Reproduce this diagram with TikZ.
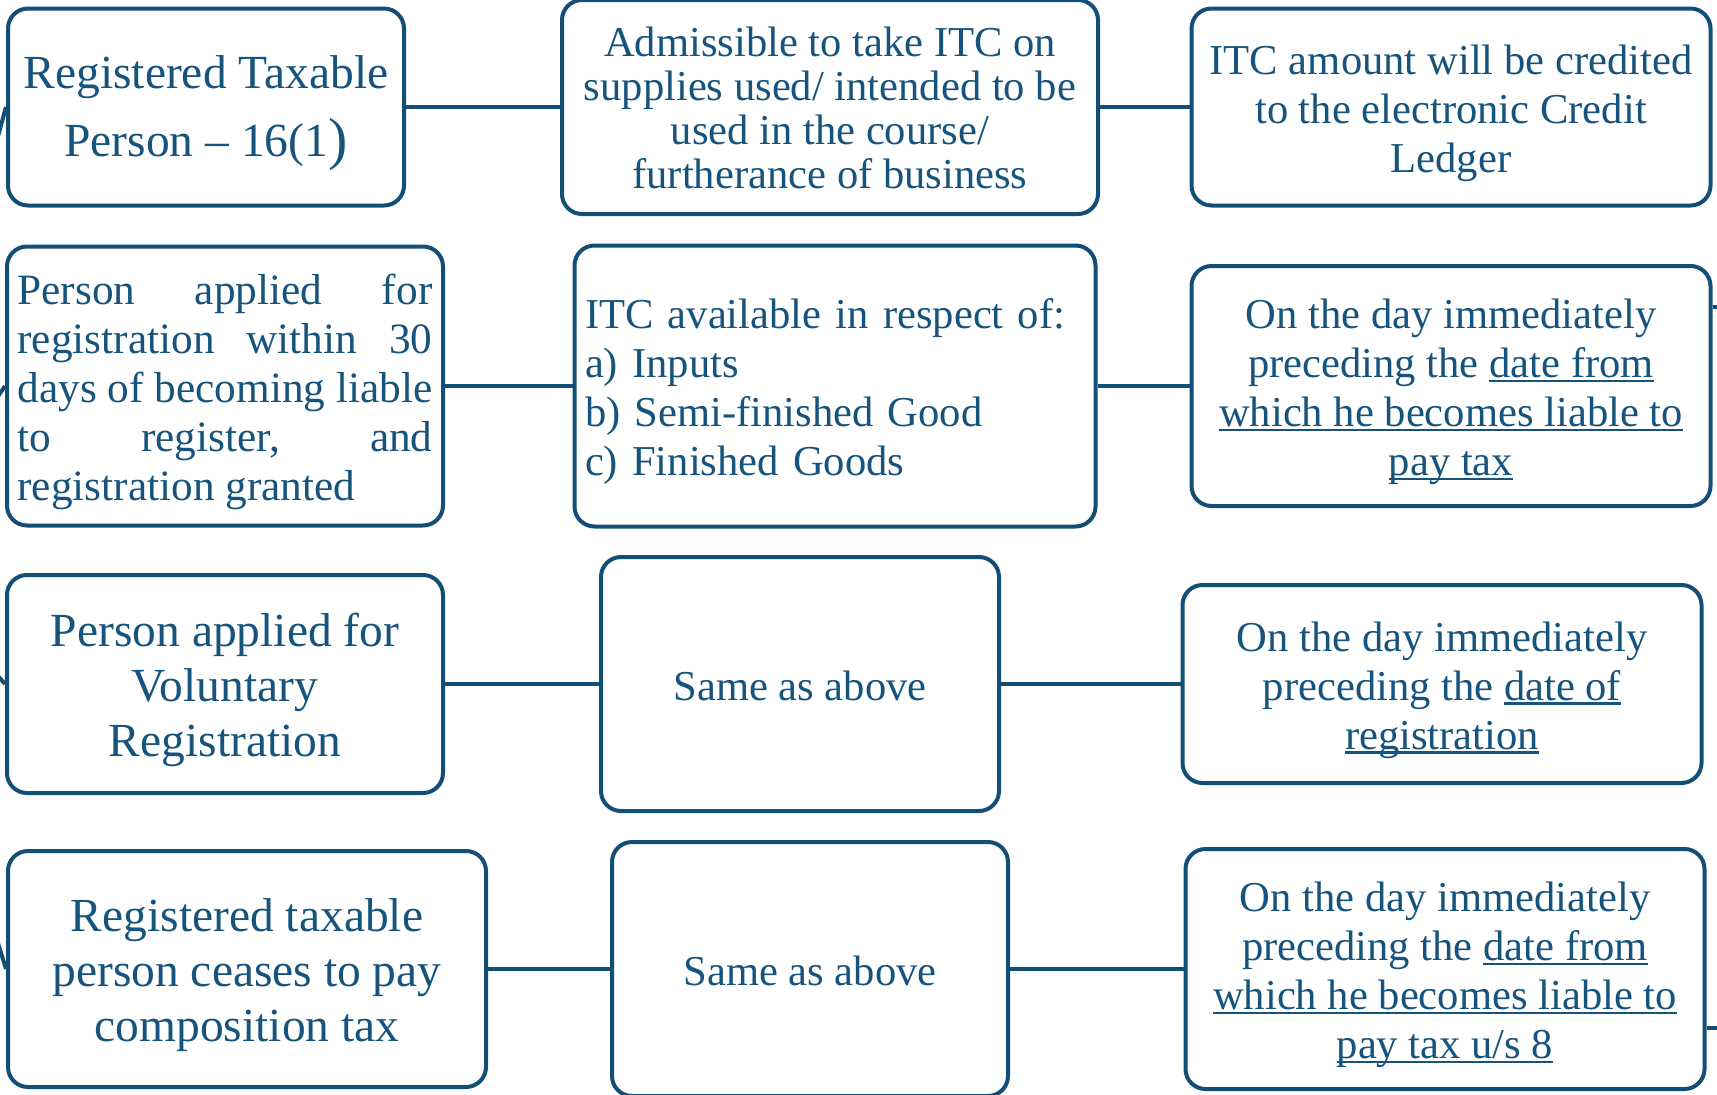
\documentclass[tikz,border=0pt]{standalone}
\usepackage{fontspec}
\setmainfont{Liberation Serif}
\definecolor{ink}{RGB}{18,78,117}
\definecolor{txt}{RGB}{22,84,125}
% underline set at a fixed depth below the baseline
\newcommand\lnu[1]{\setbox0\hbox{#1}\rlap{\rule[-4.5pt]{\wd0}{2.2pt}}\box0}
\tikzset{
  box/.style={draw=ink, line width=4pt, rounded corners=20pt, fill=white, inner sep=0pt},
  tx/.style={text=txt, align=center, inner sep=0pt},
  link/.style={draw=ink, line width=4pt},
  fs/.style={font=\fontsize{42.6}{49}\selectfont},
  fl/.style={font=\fontsize{47.5}{55}\selectfont},
}
\begin{document}
\begin{tikzpicture}[x=1pt,y=-1pt]
\useasboundingbox (0,0) rectangle (1717,1095);

% ---- boxes
\node[box, minimum width=396pt, minimum height=197pt] (A1) at (206,107) {};
\node[box, minimum width=536pt, minimum height=214pt] (B1) at (830,107) {};
\node[box, minimum width=519pt, minimum height=197pt] (C1) at (1451,107) {};
\node[box, minimum width=436pt, minimum height=279pt] (A2) at (225,386) {};
\node[box, minimum width=521pt, minimum height=281pt] (B2) at (835,386) {};
\node[box, minimum width=519pt, minimum height=240pt] (C2) at (1451,386) {};
\node[box, minimum width=436pt, minimum height=218pt] (A3) at (225,684) {};
\node[box, minimum width=398pt, minimum height=254pt] (B3) at (800,684) {};
\node[box, minimum width=519pt, minimum height=198pt] (C3) at (1442,684) {};
\node[box, minimum width=478pt, minimum height=236pt] (A4) at (247,969) {};
\node[box, minimum width=396pt, minimum height=254pt] (B4) at (810,969) {};
\node[box, minimum width=519pt, minimum height=240pt] (C4) at (1445,969) {};

% ---- texts
\node[tx, font=\fontsize{47.5}{68}\selectfont] (A1t) at ([yshift=-6pt]A1.center)
  {Registered Taxable\\Person -- 16(1{\fontsize{58}{58}\selectfont\raisebox{-2pt}{)}}};
\node[tx, font=\fontsize{42.6}{44}\selectfont] (B1t) at ([yshift=-1pt]B1.center)
  {Admissible to take ITC on\\supplies used/ intended to be\\used in the course/\\furtherance of business};
\node[tx, fs] (C1t) at ([yshift=-6pt]C1.center)
  {ITC amount will be credited\\to the electronic Credit\\Ledger};

\node[tx, font=\fontsize{43.3}{49}\selectfont, align=left] (A2t) at ([yshift=-6pt]A2.center)
  {\hbox to 415pt{Person\hfill applied\hfill for}\\
   \hbox to 415pt{registration\hfill within\hfill 30}\\
   \hbox to 415pt{days\hfill of\hfill becoming\hfill liable}\\
   \hbox to 415pt{to\hfill register,\hfill and}\\
   registration granted};
\node[tx, fs, align=left, text width=500pt] (B2t) at ([yshift=-6pt]B2.center)
  {ITC available in respect of:\\a) Inputs\\b) Semi-finished Good\\c) Finished Goods};
\node[tx, fs] (C2t) at ([yshift=-6pt]C2.center)
  {On the day immediately\\preceding the \lnu{date from}\\\lnu{which he becomes liable to}\\\lnu{pay tax}};

\node[tx, fl] (A3t) at ([yshift=-6pt]A3.center)
  {Person applied for\\Voluntary\\Registration};
\node[tx, fs] (B3t) at ([yshift=-2pt]B3.center) {Same as above};
\node[tx, fs] (C3t) at ([yshift=-6pt]C3.center)
  {On the day immediately\\preceding the \lnu{date of}\\\lnu{registration}};

\node[tx, fl] (A4t) at ([yshift=-6pt]A4.center)
  {Registered taxable\\person ceases to pay\\composition tax};
\node[tx, fs] (B4t) at ([yshift=-2pt]B4.center) {Same as above};
\node[tx, fs] (C4t) at ([yshift=-6pt]C4.center)
  {On the day immediately\\preceding the \lnu{date from}\\\lnu{which he becomes liable to}\\\lnu{pay tax u/s 8}};

% ---- links between the columns
\draw[link] (A1) -- (B1);  \draw[link] (B1) -- (C1);
\draw[link] (A2) -- (B2);  \draw[link] (B2) -- (C2);
\draw[link] (A3) -- (B3);  \draw[link] (B3) -- (C3);
\draw[link] (A4) -- (B4);  \draw[link] (B4) -- (C4);

% ---- incoming and outgoing branch ends at the edges
\coordinate (L1) at (-3,140);
\coordinate (L2) at (-3,398);
\coordinate (L3) at (-3,675);
\coordinate (L4) at (-3,940);
\draw[link] (L1) -- (A1.west);
\draw[link] (L2) -- (A2.west);
\draw[link] (L3) -- (A3.west);
\draw[link] (L4) -- (A4.west);
\coordinate (R2) at (1725,307);
\coordinate (R4) at (1725,1028);
\draw[link] (R2 -| C2.east) -- (R2);
\draw[link] (R4 -| C4.east) -- (R4);
\end{tikzpicture}
\end{document}
